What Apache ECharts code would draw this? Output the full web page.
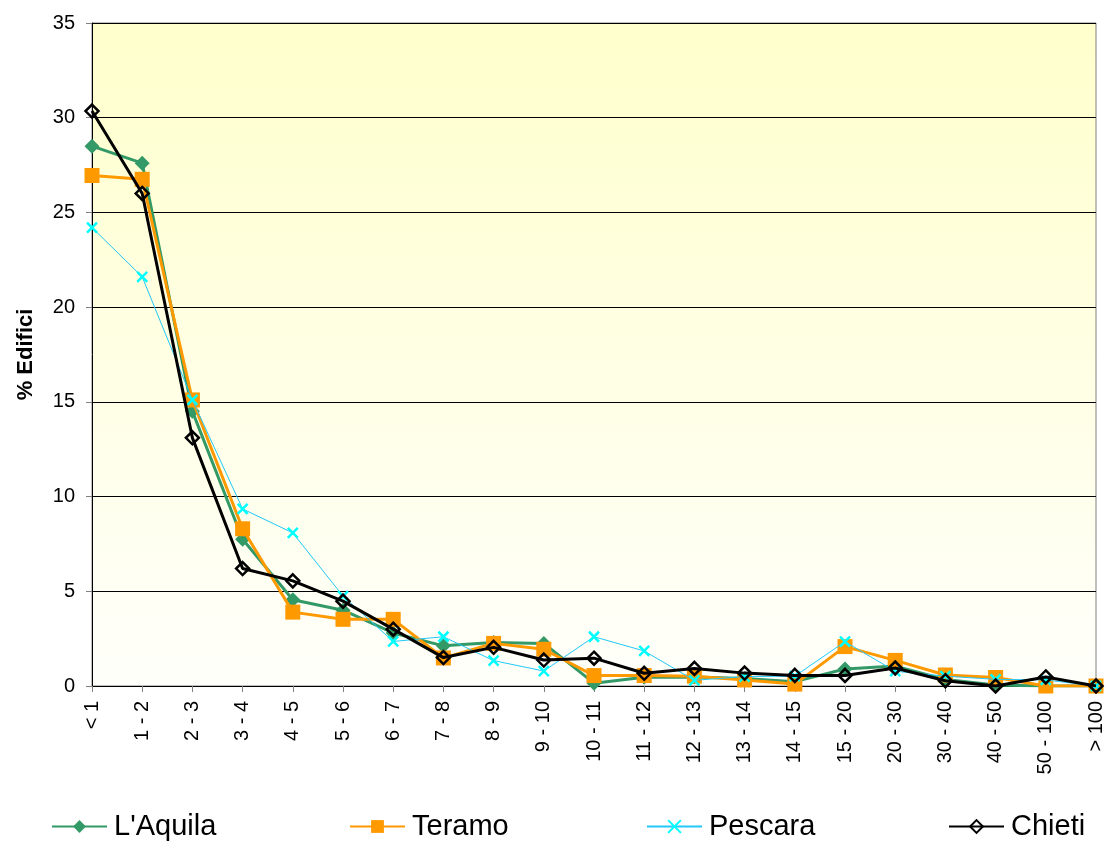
<!DOCTYPE html>
<html>
<head>
<meta charset="utf-8">
<script src="https://cdn.jsdelivr.net/npm/echarts@6/dist/echarts.min.js"></script>
<style>
html,body{margin:0;padding:0;background:#fff;}
#c{width:1106px;height:843px;}
</style>
</head>
<body>
<div id="c"></div>
<script>
var categories = ['< 1','1 - 2','2 - 3','3 - 4','4 - 5','5 - 6','6 - 7','7 - 8','8 - 9','9 - 10','10 - 11','11 - 12','12 - 13','13 - 14','14 - 15','15 - 20','20 - 30','30 - 40','40 - 50','50 - 100','> 100'];
var seriesNames = ["L'Aquila", 'Teramo', 'Pescara', 'Chieti'];
var laquila = [28.5, 27.6, 14.5, 7.75, 4.55, 4.0, 2.8, 2.12, 2.3, 2.25, 0.15, 0.46, 0.48, 0.4, 0.23, 0.9, 1.05, 0.35, 0.05, 0.0, 0.0];
var teramo  = [26.95, 26.75, 15.1, 8.3, 3.9, 3.52, 3.52, 1.48, 2.25, 1.94, 0.55, 0.55, 0.52, 0.32, 0.1, 2.08, 1.35, 0.58, 0.45, 0.0, 0.0];
var pescara = [24.2, 21.6, 15.1, 9.35, 8.08, 4.75, 2.35, 2.6, 1.34, 0.79, 2.6, 1.85, 0.3, 0.5, 0.52, 2.34, 0.78, 0.52, 0.35, 0.32, 0.0];
var chieti  = [30.35, 26.0, 13.1, 6.2, 5.55, 4.48, 3.0, 1.5, 2.04, 1.37, 1.47, 0.67, 0.93, 0.68, 0.56, 0.56, 0.95, 0.28, 0.0, 0.48, 0.0];
var yTicks = [0, 5, 10, 15, 20, 25, 30, 35];

var font = 'Liberation Sans, Arial, sans-serif';
var chart = echarts.init(document.getElementById('c'), null, {renderer: 'canvas'});
var xPath = 'path://M0,0 L10,10 M10,0 L0,10';

function legendFor(name, left) {
  return {
    data: [name], left: left, top: 812, padding: 0,
    itemWidth: 55, itemHeight: 16, itemGap: 0,
    textStyle: {fontFamily: font, fontSize: 29, color: '#000', padding: [2,0,0,2]}
  };
}

chart.setOption({
  animation: false,
  backgroundColor: '#ffffff',
  grid: {
    left: 92, right: 6, top: 23, bottom: 157,
    show: true, borderColor: '#808080', borderWidth: 1,
    backgroundColor: {
      type: 'linear', x: 0, y: 0, x2: 0, y2: 1,
      colorStops: [{offset: 0, color: '#FFFFCC'}, {offset: 1, color: '#FFFFFB'}]
    }
  },
  legend: [
    legendFor(seriesNames[0], 51),
    legendFor(seriesNames[1], 349),
    legendFor(seriesNames[2], 646),
    legendFor(seriesNames[3], 948)
  ],
  xAxis: {
    type: 'category', data: categories, boundaryGap: false,
    axisLine: {show: true, lineStyle: {color: '#000', width: 1}},
    axisTick: {show: true, alignWithLabel: true, length: 6, lineStyle: {color: '#808080'}},
    axisLabel: {rotate: 90, interval: 0, margin: 15, fontFamily: font, fontSize: 20, color: '#000'},
    splitLine: {show: false}
  },
  yAxis: {
    type: 'value', min: 0, max: 35, interval: 5,
    name: '% Edifici', nameLocation: 'middle', nameGap: 55,
    nameTextStyle: {fontFamily: font, fontSize: 22, fontWeight: 'bold', color: '#000'},
    axisLine: {show: true, lineStyle: {color: '#000', width: 1}},
    axisTick: {show: true, length: 6, lineStyle: {color: '#808080'}},
    axisLabel: {margin: 17, fontFamily: font, fontSize: 20, color: '#000',
      formatter: function (v) { return yTicks.indexOf(v) >= 0 ? String(v) : ''; }},
    splitLine: {show: true, lineStyle: {color: '#000', width: 1}}
  },
  series: [
    {
      name: seriesNames[0], type: 'line', data: laquila,
      symbol: 'diamond', symbolSize: 15, showAllSymbol: true,
      lineStyle: {color: '#339966', width: 3},
      itemStyle: {color: '#339966'}, z: 2
    },
    {
      name: seriesNames[1], type: 'line', data: teramo,
      symbol: 'rect', symbolSize: 15, showAllSymbol: true,
      lineStyle: {color: '#FF9900', width: 3},
      itemStyle: {color: '#FF9900'}, z: 3
    },
    {
      name: seriesNames[2], type: 'line', data: pescara,
      symbol: xPath, symbolSize: 10, showAllSymbol: true,
      lineStyle: {color: '#22C8F8', width: 1},
      itemStyle: {color: 'none', borderColor: '#00FFFF', borderWidth: 2.5}, z: 4
    },
    {
      name: seriesNames[3], type: 'line', data: chieti,
      symbol: 'diamond', symbolSize: 13, showAllSymbol: true,
      lineStyle: {color: '#000000', width: 3},
      itemStyle: {color: 'rgba(0,0,0,0)', borderColor: '#000000', borderWidth: 2.5}, z: 5
    }
  ]
});
</script>
</body>
</html>
